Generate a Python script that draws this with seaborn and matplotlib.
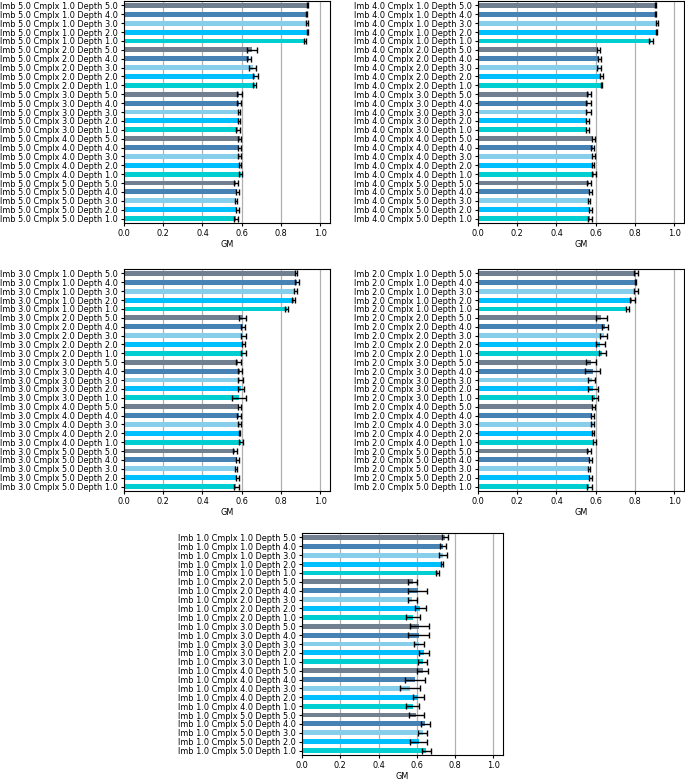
import matplotlib
matplotlib.use("Agg")
import matplotlib.pyplot as plt
import seaborn as sns

# bar order inside each panel: complexity 1..5, depth 5..1
cmplx_levels = [1.0, 2.0, 3.0, 4.0, 5.0]
depth_levels = [5.0, 4.0, 3.0, 2.0, 1.0]
colors = ["slategray", "steelblue", "skyblue", "deepskyblue", "darkturquoise"]

gm_imb5 = [0.935, 0.932, 0.935, 0.935, 0.925,
           0.651, 0.637, 0.656, 0.670, 0.666,
           0.588, 0.588, 0.586, 0.586, 0.581,
           0.589, 0.588, 0.589, 0.589, 0.595,
           0.571, 0.578, 0.571, 0.578, 0.571]
err_imb5 = [0.003, 0.002, 0.005, 0.003, 0.005,
            0.026, 0.009, 0.017, 0.015, 0.007,
            0.014, 0.010, 0.007, 0.007, 0.009,
            0.008, 0.007, 0.007, 0.005, 0.009,
            0.010, 0.007, 0.007, 0.007, 0.010]

gm_imb4 = [0.906, 0.906, 0.913, 0.910, 0.883,
           0.614, 0.619, 0.616, 0.628, 0.629,
           0.568, 0.563, 0.563, 0.558, 0.558,
           0.587, 0.585, 0.587, 0.587, 0.592,
           0.566, 0.573, 0.566, 0.573, 0.570]
err_imb4 = [0.003, 0.003, 0.005, 0.003, 0.010,
            0.008, 0.008, 0.009, 0.008, 0.003,
            0.010, 0.015, 0.011, 0.009, 0.009,
            0.007, 0.007, 0.007, 0.005, 0.010,
            0.010, 0.008, 0.005, 0.006, 0.010]

gm_imb3 = [0.877, 0.882, 0.874, 0.864, 0.830,
           0.605, 0.606, 0.607, 0.608, 0.608,
           0.583, 0.591, 0.593, 0.595, 0.584,
           0.588, 0.586, 0.589, 0.588, 0.595,
           0.567, 0.578, 0.571, 0.578, 0.573]
err_imb3 = [0.004, 0.012, 0.010, 0.007, 0.008,
            0.017, 0.010, 0.013, 0.008, 0.014,
            0.014, 0.012, 0.014, 0.016, 0.036,
            0.006, 0.008, 0.007, 0.004, 0.010,
            0.009, 0.007, 0.007, 0.007, 0.011]

gm_imb2 = [0.803, 0.803, 0.803, 0.787, 0.760,
           0.629, 0.648, 0.641, 0.624, 0.633,
           0.577, 0.585, 0.580, 0.586, 0.597,
           0.587, 0.582, 0.585, 0.587, 0.593,
           0.566, 0.573, 0.566, 0.573, 0.568]
err_imb2 = [0.010, 0.004, 0.010, 0.012, 0.008,
            0.027, 0.014, 0.019, 0.022, 0.017,
            0.024, 0.039, 0.017, 0.026, 0.015,
            0.007, 0.008, 0.008, 0.005, 0.009,
            0.010, 0.008, 0.005, 0.006, 0.012]

gm_imb1 = [0.748, 0.736, 0.737, 0.732, 0.708,
           0.579, 0.604, 0.576, 0.619, 0.580,
           0.613, 0.611, 0.609, 0.635, 0.630,
           0.630, 0.591, 0.565, 0.607, 0.578,
           0.598, 0.645, 0.630, 0.609, 0.649]
err_imb1 = [0.017, 0.014, 0.019, 0.007, 0.009,
            0.023, 0.048, 0.023, 0.028, 0.037,
            0.048, 0.055, 0.026, 0.026, 0.022,
            0.030, 0.052, 0.052, 0.028, 0.034,
            0.037, 0.024, 0.022, 0.043, 0.023]

panels = [
    (5.0, gm_imb5, err_imb5),
    (4.0, gm_imb4, err_imb4),
    (3.0, gm_imb3, err_imb3),
    (2.0, gm_imb2, err_imb2),
    (1.0, gm_imb1, err_imb1),
]

W, H = 685, 782
# axes boxes in pixels: left, top, width, height
boxes = [
    (124, 1, 206, 222),
    (478, 1, 206, 222),
    (124, 269, 206, 222),
    (478, 269, 206, 222),
    (302, 533, 201, 222),
]

fs = 5.9
fig = plt.figure(figsize=(W / 100, H / 100), dpi=100)

for (imb, gm, err), (l, t, w, h) in zip(panels, boxes):
    ax = fig.add_axes([l / W, (H - t - h) / H, w / W, h / H])
    labels = [f"Imb {imb:.1f} Cmplx {c:.1f} Depth {d:.1f}"
              for c in cmplx_levels for d in depth_levels]
    pal = {lab: colors[i % 5] for i, lab in enumerate(labels)}
    sns.barplot(x=gm, y=labels, hue=labels, palette=pal, order=labels,
                hue_order=labels, dodge=False, width=0.55, saturation=1,
                errorbar=None, legend=False, ax=ax)
    ax.errorbar(gm, list(range(len(gm))), xerr=err, fmt="none",
                ecolor="black", elinewidth=1, capsize=2.2, capthick=1)
    ax.set_xlim(0, 1.05)
    ax.set_ylim(len(gm) - 0.5, -0.5)
    ax.set_xticks([0.0, 0.2, 0.4, 0.6, 0.8, 1.0])
    ax.set_axisbelow(True)
    ax.grid(axis="x", color="#b0b0b0", linewidth=0.9)
    ax.tick_params(labelsize=fs, length=2.5, pad=2)
    ax.set_xlabel("GM", fontsize=fs, labelpad=1)
    ax.set_ylabel("")

fig.savefig("out.png", dpi=100)
